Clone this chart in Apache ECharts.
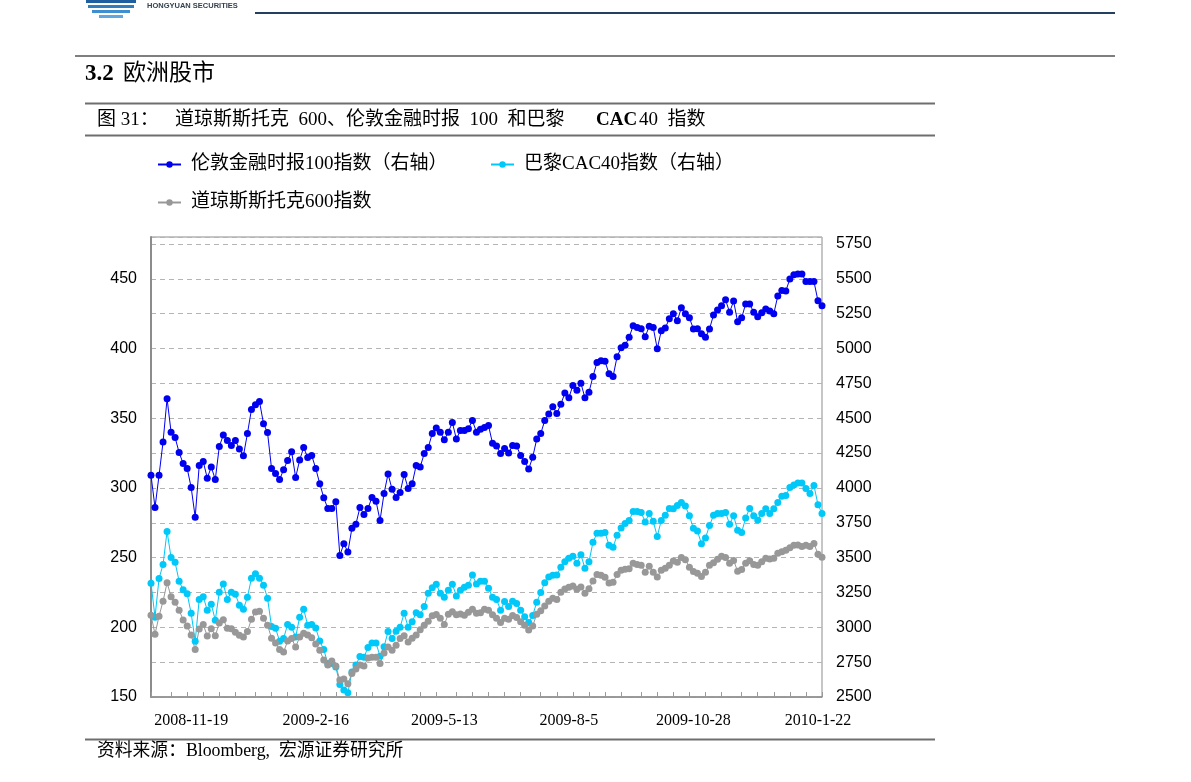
<!DOCTYPE html>
<html>
<head>
<meta charset="utf-8">
<script src="https://cdn.jsdelivr.net/npm/echarts@6/dist/echarts.min.js"></script>
<style>
html,body{margin:0;padding:0;background:#fff;}
#chart{width:1191px;height:782px;}
</style>
</head>
<body>
<div id="chart"></div>
<script>
// ---- data ----
const seriesNames = ['伦敦金融时报100指数（右轴）', '巴黎CAC40指数（右轴）', '道琼斯斯托克600指数'];

// x tick labels and the category index where each one sits
const xLabels = ['2008-11-19', '2009-2-16', '2009-5-13', '2009-8-5', '2009-10-28', '2010-1-22'];
const xLabelIndex = [10, 41, 73, 104, 135, 166];

// 伦敦金融时报100 (right axis)
const ftse = [4090,3860,4090,4330,4640,4400,4361,4254,4175,4140,
 4003,3790,4160,4190,4070,4150,4060,4297,4380,4340,
 4304,4340,4280,4230,4390,4562,4597,4620,4461,4397,
 4140,4103,4060,4130,4197,4260,4075,4200,4290,4218,
 4232,4140,4030,3930,3853,3853,3900,3516,3600,3540,
 3710,3740,3860,3810,3853,3932,3905,3767,3960,4100,
 3990,3932,3967,4096,3996,4030,4161,4150,4247,4290,
 4390,4430,4400,4345,4400,4470,4350,4411,4411,4425,
 4483,4400,4420,4433,4447,4320,4300,4247,4282,4250,
 4304,4300,4232,4190,4135,4220,4350,4390,4483,4530,
 4583,4533,4600,4680,4647,4735,4700,4750,4647,4686,
 4800,4900,4912,4908,4819,4800,4941,5005,5024,5080,
 5163,5150,5141,5084,5160,5150,4998,5127,5148,5213,
 5249,5199,5292,5250,5220,5140,5141,5106,5080,5140,
 5240,5277,5306,5349,5260,5340,5192,5220,5320,5320,
 5260,5227,5256,5284,5270,5250,5377,5417,5413,5499,
 5530,5535,5535,5480,5480,5480,5342,5306];

// 巴黎CAC40 (right axis)
const cac = [3316,3073,3350,3450,3688,3500,3466,3330,3270,3240,
 3100,2900,3200,3220,3123,3166,3050,3252,3310,3200,
 3252,3237,3159,3130,3216,3352,3385,3352,3302,3209,
 3005,2994,2900,2920,3020,3001,2930,3073,3130,3015,
 3020,2995,2901,2840,2740,2740,2715,2590,2550,2530,
 2680,2730,2790,2786,2855,2887,2887,2793,2860,2970,
 2920,2972,3001,3101,3001,3040,3105,3090,3150,3244,
 3284,3309,3244,3215,3266,3309,3225,3266,3287,3302,
 3375,3310,3330,3330,3280,3216,3200,3123,3185,3150,
 3187,3170,3123,3075,3035,3085,3180,3250,3320,3360,
 3373,3375,3431,3470,3495,3510,3459,3520,3423,3470,
 3610,3675,3674,3680,3588,3575,3660,3712,3745,3767,
 3830,3830,3824,3755,3817,3760,3652,3767,3803,3853,
 3850,3874,3896,3870,3800,3710,3690,3600,3640,3730,
 3803,3817,3817,3824,3740,3800,3696,3681,3785,3853,
 3800,3770,3817,3850,3817,3850,3896,3940,3946,4003,
 4020,4035,4035,3996,3960,4017,3880,3817];

// 道琼斯斯托克600 (left axis)
const stoxx = [208.7,195.1,208,218.7,232,222,218,212.3,205.3,201,
 194.4,184,198.7,202,193.7,199,194,203,205.4,199.4,
 199,196.5,194.3,193,197,205.8,211,211.5,206.5,201.5,
 192.2,188.7,184,182.2,190.1,192,185.8,193,195.8,194.4,
 192.5,188,183.6,176.5,172.9,175.8,172.2,162.2,163,159.5,
 166.8,170,172.9,172.2,177.9,178.6,178.6,174,181.5,185.8,
 183.6,187.2,192,194,189.4,192.2,194.4,198.2,201.5,204.4,
 208.2,209.2,206.5,202,209.4,211.2,209,209.6,208.7,210.8,
 213,210.1,210.4,213,212.2,209,206.5,203.5,206.5,205.8,
 208.5,207,204,201.5,198,201,209.4,211.8,215.2,218.7,
 220.9,219.9,225.2,227.5,228.7,229.6,227.3,229,224.4,227.6,
 233.3,237.8,237.3,235.9,231.8,232.3,237.8,240.9,241.6,242,
 246,245,244.5,239.5,243.8,239.5,236,240.9,242.3,244.5,
 247.5,246.6,250,248.5,243.1,240,238.8,236.5,239.5,244.5,
 246.3,248.8,251,250,245.9,248,240.2,241.5,245.9,247.8,
 245,244.5,247,249.5,249,249.5,253.1,254.2,255.2,257,
 258.8,259,258,258.8,258,260.2,252.4,250.2];

// category slots (one per observation)
const categories = stoxx.map((_, i) => i);

// ---- chart ----
const SERIF = "'Liberation Serif', 'Noto Sans CJK SC', serif";
const SANS = "'Liberation Sans', Arial, sans-serif";
const colors = ['#0000f0', '#00c8f8', '#989898'];
const nTicks = 40;

const chart = echarts.init(document.getElementById('chart'), null, {renderer: 'canvas'});

function legendFor(name, left, top) {
  return {
    data: [name], left: left, top: top, orient: 'horizontal', padding: 0,
    itemWidth: 23, itemHeight: 8, itemGap: 10,
    textStyle: {fontFamily: SERIF, fontSize: 19, color: '#000', padding: [0, 0, 0, 5]},
    selectedMode: false
  };
}

function hline(x1, x2, y, color, w) {
  return {type: 'line', shape: {x1: x1, y1: y, x2: x2, y2: y},
          style: {stroke: color, lineWidth: w}, silent: true};
}

function txt(x, y, text, size, bold) {
  return {type: 'text', x: x, y: y, silent: true,
          style: {text: text, fontFamily: SERIF, fontSize: size, fontWeight: bold ? 'bold' : 'normal',
                  fill: '#000', verticalAlign: 'middle'}};
}

const option = {
  animation: false,
  backgroundColor: '#ffffff',
  color: colors,
  grid: {left: 151, right: 369, top: 237, bottom: 85, show: true,
         borderColor: '#8c8c8c', borderWidth: 1, backgroundColor: 'transparent'},
  legend: [
    legendFor(seriesNames[0], 157, 155),
    legendFor(seriesNames[1], 490, 155),
    legendFor(seriesNames[2], 157, 193)
  ],
  xAxis: {
    type: 'category', data: categories, boundaryGap: false,
    axisLine: {show: true, lineStyle: {color: '#8c8c8c', width: 1.5}},
    axisTick: {show: true, inside: true, length: 5,
      interval: function (idx) {
        if (idx === 0) return true;
        return Math.floor(idx * nTicks / (categories.length - 1)) !== Math.floor((idx - 1) * nTicks / (categories.length - 1));
      },
      lineStyle: {color: '#9a9a9a'}},
    axisLabel: {
      interval: function (idx) { return xLabelIndex.indexOf(idx) >= 0; },
      formatter: function (value) {
        const k = xLabelIndex.indexOf(Number(value));
        return k >= 0 ? xLabels[k] : '';
      },
      fontFamily: SERIF, fontSize: 16, color: '#000', margin: 16,
      hideOverlap: false
    },
    splitLine: {show: false}
  },
  yAxis: [
    {type: 'value', position: 'left', min: 150, max: 480, interval: 25,
     axisLine: {show: true, lineStyle: {color: '#8c8c8c', width: 2}},
     axisTick: {show: false},
     splitLine: {show: true, lineStyle: {color: '#b4b4b4', type: [5, 4], width: 1}},
     axisLabel: {formatter: function (v) { return v % 50 === 0 ? String(v) : ''; },
       fontFamily: SANS, fontSize: 16, color: '#000', margin: 14}},
    {type: 'value', position: 'right', min: 2500, max: 5800, interval: 250,
     axisLine: {show: false}, axisTick: {show: false}, splitLine: {show: false},
     axisLabel: {formatter: function (v) { return v % 250 === 0 ? String(v) : ''; },
       fontFamily: SANS, fontSize: 16, color: '#000', margin: 14}}
  ],
  series: [
    {name: seriesNames[0], type: 'line', yAxisIndex: 1, data: ftse,
     symbol: 'circle', symbolSize: 7, showSymbol: true, showAllSymbol: true,
     lineStyle: {color: colors[0], width: 1}, itemStyle: {color: colors[0]}},
    {name: seriesNames[1], type: 'line', yAxisIndex: 1, data: cac,
     symbol: 'circle', symbolSize: 7, showSymbol: true, showAllSymbol: true,
     lineStyle: {color: colors[1], width: 1}, itemStyle: {color: colors[1]}},
    {name: seriesNames[2], type: 'line', yAxisIndex: 0, data: stoxx,
     symbol: 'circle', symbolSize: 7, showSymbol: true, showAllSymbol: true,
     lineStyle: {color: colors[2], width: 1}, itemStyle: {color: colors[2]}}
  ],
  graphic: [
    // header logo (stylised stripes)
    {type: 'rect', shape: {x: 86, y: 0, width: 50, height: 3}, style: {fill: '#1f5f9f'}, silent: true},
    {type: 'rect', shape: {x: 88, y: 5, width: 46, height: 3}, style: {fill: '#2f7fbf'}, silent: true},
    {type: 'rect', shape: {x: 92, y: 10, width: 38, height: 3}, style: {fill: '#3f8fcf'}, silent: true},
    {type: 'rect', shape: {x: 99, y: 15, width: 24, height: 3}, style: {fill: '#5fa7df'}, silent: true},
    {type: 'text', x: 147, y: 6, style: {text: 'HONGYUAN SECURITIES', fontFamily: SANS, fontWeight: 'bold',
      fontSize: 7.5, fill: '#33414f', verticalAlign: 'middle'}, silent: true},
    hline(255, 1115, 13, '#24405e', 2),
    hline(75, 1115, 56, '#555555', 1.5),
    txt(85, 74, '3.2', 23, true),
    txt(123, 74, '欧洲股市', 23, false),
    hline(85, 935, 103.5, '#6e6e6e', 2),
    txt(97, 120, '图 31：', 19, false),
    txt(175, 120, '道琼斯斯托克  600、伦敦金融时报  100  和巴黎', 19, false),
    txt(596, 120, 'CAC', 19, true),
    txt(639, 120, '40  指数', 19, false),
    hline(85, 935, 135.5, '#6e6e6e', 2),
    hline(85, 935, 739.5, '#6e6e6e', 2),
    txt(97, 751, '资料来源：Bloomberg,  宏源证券研究所', 17.8, false)
  ]
};

chart.setOption(option);
</script>
</body>
</html>
